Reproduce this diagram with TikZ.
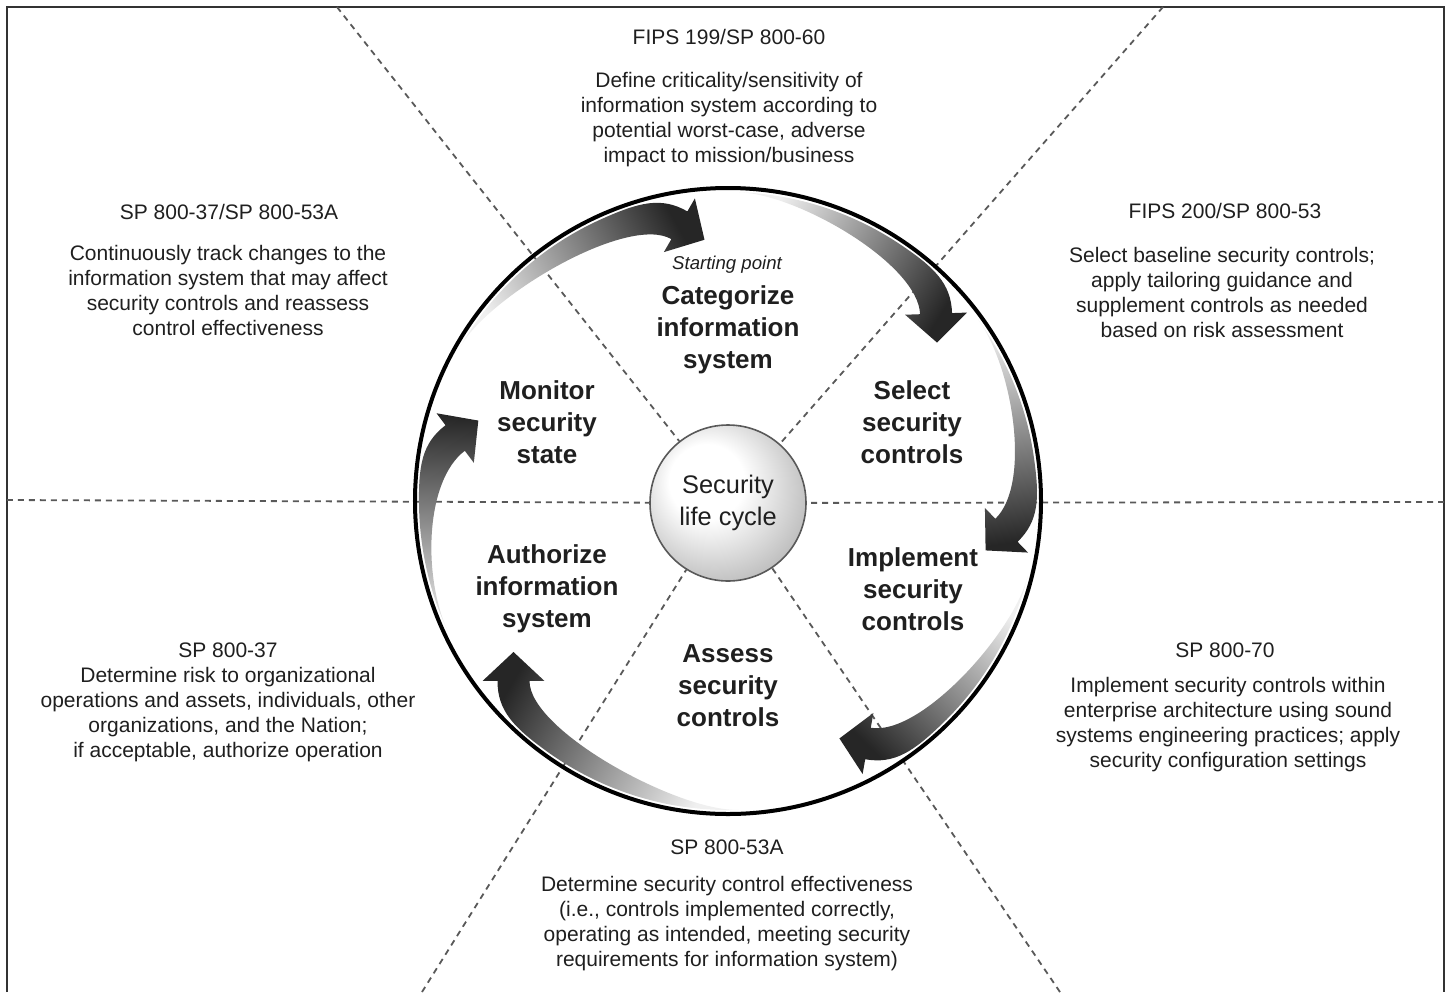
\documentclass[tikz,border=0pt]{standalone}
\usepackage{fontspec}
\setmainfont{Liberation Sans}
\usetikzlibrary{calc}

\pgfdeclareradialshading{lifeball}{\pgfqpoint{-9bp}{9bp}}{color(0bp)=(white); color(12bp)=(white); color(32bp)=(black!28); color(50bp)=(black!45)}

% tapered arrow along the big circle: tail angle, head angle, shading angle
\newcommand{\swoosh}[3]{%
  \shade[swoosh, shading angle=#3]
    (#1:309) arc[start angle=#1, end angle={#2+14}, radius=309]
    .. controls +({#2-76}:40) and +({#2+50}:30) .. ($(#2:280)+({#2-40}:16)$)
    -- ($(#2:280)+({#2-40}:31)$)
    -- ($(#2:280)+({#2-130}:29)$)
    -- ($(#2:280)+({#2-220}:31)$)
    -- ($(#2:280)+({#2-220}:16)$)
    .. controls +({#2+50}:50) and +({#1-90}:60) .. (#1:309) -- cycle;}

\begin{document}
\begin{tikzpicture}[x=0.5pt, y=0.5pt,
    frame/.style={draw=black!80, line width=1pt},
    sector/.style={draw=black!65, line width=0.9pt, dash pattern=on 3pt off 2.5pt},
    ring/.style={draw=black, line width=2pt},
    swoosh/.style={top color=black!6, bottom color=black!85},
    ref/.style={font=\fontsize{10.5}{12.5}\selectfont, align=center, text=black!88},
    stage/.style={font=\bfseries\fontsize{13}{16}\selectfont, align=center, text=black!88},
    lifenode/.style={circle, shade, shading=lifeball, draw=black!65, line width=0.8pt, minimum size=78pt, inner sep=0pt, align=center, text=black!88, font=\fontsize{12.7}{16}\selectfont}]
    \useasboundingbox (-728,-491) rectangle (721,501);

    % frame, open at the bottom
    \draw[frame] (-721,-491) |- (716,494) -- (716,-491);

    \node[lifenode] (life) at (0,-2) {Security\\life cycle};

    \coordinate (tl) at (-391,494);
    \coordinate (tr) at (435,494);
    \coordinate (bl) at (-306,-491);
    \coordinate (br) at (332,-491);
    \coordinate (hl) at (-721,1);
    \coordinate (hr) at (716,-1);

    \draw[sector] (tl) -- (life);
    \draw[sector] (tr) -- (life);
    \draw[sector] (bl) -- (life);
    \draw[sector] (br) -- (life);
    \draw[sector] (hl) -- (life);
    \draw[sector] (hr) -- (life);

    \draw[ring] (0,0) circle[radius=313];

    \swoosh{150}{100}{119}
    \swoosh{88}{42}{58}
    \swoosh{36}{-6}{8}
    \swoosh{-14}{-60}{-44}
    \swoosh{272}{220}{-120}
    \swoosh{205}{167}{178}

    \node[font=\itshape\fontsize{9.3}{11}\selectfont, text=black!88] (start) at (-1,236) {Starting point};
    \node[stage] (categorize) at (0,171) {Categorize\\information\\system};
    \node[stage] (select) at (184,79) {Select\\security\\controls};
    \node[stage] (implement) at (185,-88) {Implement\\security\\controls};
    \node[stage] (assess) at (0,-185) {Assess\\security\\controls};
    \node[stage] (authorize) at (-181,-88) {Authorize\\information\\system};
    \node[stage] (monitor) at (-181,79) {Monitor\\security\\state};

    \node[ref] (catref) at (1,464) {FIPS 199/SP 800-60};
    \node[ref] (catdesc) at (1,381) {Define criticality/sensitivity of\\information system according to\\potential worst-case, adverse\\impact to mission/business};
    \node[ref] (selref) at (497,290) {FIPS 200/SP 800-53};
    \node[ref] (seldesc) at (494,209) {Select baseline security controls;\\apply tailoring guidance and\\supplement controls as needed\\based on risk assessment};
    \node[ref] (impref) at (497,-149) {SP 800-70};
    \node[ref] (impdesc) at (500,-224) {Implement security controls within\\enterprise architecture using sound\\systems engineering practices; apply\\security configuration settings};
    \node[ref] (assref) at (-1,-346) {SP 800-53A};
    \node[ref] (assdesc) at (-1,-423) {Determine security control effectiveness\\(i.e., controls implemented correctly,\\operating as intended, meeting security\\requirements for information system)};
    \node[ref] (authref) at (-500,-149) {SP 800-37};
    \node[ref] (authdesc) at (-500,-214) {Determine risk to organizational\\operations and assets, individuals, other\\organizations, and the Nation;\\if acceptable, authorize operation};
    \node[ref] (monref) at (-499,289) {SP 800-37/SP 800-53A};
    \node[ref] (mondesc) at (-500,211) {Continuously track changes to the\\information system that may affect\\security controls and reassess\\control effectiveness};
\end{tikzpicture}
\end{document}
